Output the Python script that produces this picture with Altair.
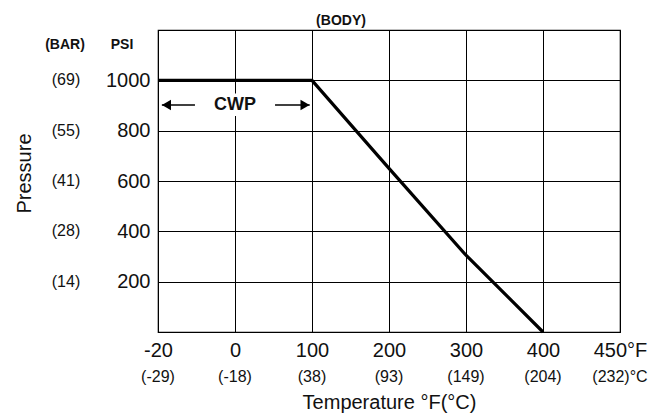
import altair as alt
import pandas as pd

# ---- data ----
temp_f_labels = ["-20", "0", "100", "200", "300", "400", "450°F"]
temp_c_labels = ["(-29)", "(-18)", "(38)", "(93)", "(149)", "(204)", "(232)°C"]
psi_ticks = [200, 400, 600, 800, 1000]
bar_labels = ["(14)", "(28)", "(41)", "(55)", "(69)"]
# curve: positions are indexes into temp_f_labels (equally spaced axis)
curve_temp_idx = [0, 2, 3, 4, 5]
curve_psi = [1000, 1000, 650, 305, 0]
cwp_psi = 902

W, H = 462, 302
FONT = "Liberation Sans"
INK = "#111111"

xscale = alt.Scale(domain=[0, 6], nice=False, zero=False)
yscale = alt.Scale(domain=[0, 1200], nice=False)

label_expr = "[" + ",".join(f"'{l}'" for l in temp_f_labels) + "][datum.value]"

curve = pd.DataFrame({"idx": curve_temp_idx, "psi": curve_psi})

line = alt.Chart(curve).mark_line(color="black", strokeWidth=3.2).encode(
    x=alt.X("idx:Q", scale=xscale, axis=alt.Axis(
        values=list(range(7)), labelExpr=label_expr, grid=True,
        gridColor="black", gridOpacity=1, gridWidth=1, ticks=False, domain=False,
        labelFontSize=20, labelFont=FONT, labelColor=INK, labelPadding=8,
        labelFlush=False, labelOverlap=False,
        title="Temperature °F(°C)", titleFontSize=20, titleFont=FONT,
        titleFontWeight="normal", titleColor=INK, titleX=W / 2, titleY=70,
        titleBaseline="middle", titleAlign="center")),
    y=alt.Y("psi:Q", scale=yscale, axis=alt.Axis(
        values=psi_ticks, format="d", grid=True, gridColor="black", gridOpacity=1,
        gridWidth=1, ticks=False, domain=False, labelFontSize=20, labelFont=FONT,
        labelColor=INK, labelPadding=8, labelFlush=False, labelOverlap=False,
        title="Pressure", titleFontSize=20, titleFont=FONT, titleFontWeight="normal",
        titleColor=INK, titleX=-134, titleY=143, titleBaseline="middle",
        titleAlign="center", titleAngle=270)),
)

# Celsius labels under the axis
cdf = pd.DataFrame({"idx": list(range(7)), "t": temp_c_labels})
c_text = alt.Chart(cdf).mark_text(fontSize=16, font=FONT, color=INK, baseline="middle").encode(
    x=alt.X("idx:Q", scale=xscale), y=alt.value(H + 45), text="t:N")

# BAR labels
bdf = pd.DataFrame({"psi": psi_ticks, "t": bar_labels})
b_text = alt.Chart(bdf).mark_text(fontSize=16, font=FONT, color=INK, baseline="middle").encode(
    x=alt.value(-92), y=alt.Y("psi:Q", scale=yscale), text="t:N")

# headers
hdf = pd.DataFrame({"t": ["(BAR)", "PSI", "(BODY)"], "px": [-93, -36, 183], "py": [15, 15, -9]})
h_text = alt.Chart(hdf).mark_text(fontSize=14, font=FONT, fontWeight="bold", color=INK,
                                  baseline="middle").encode(
    x=alt.X("px:Q", scale=None), y=alt.Y("py:Q", scale=None), text="t:N")

# CWP annotation
box = alt.Chart(pd.DataFrame({"a": [0.66], "b": [1.34], "lo": [858], "hi": [948]})).mark_rect(
    color="white").encode(x=alt.X("a:Q", scale=xscale), x2="b:Q",
                          y=alt.Y("lo:Q", scale=yscale), y2="hi:Q")
arrows = pd.DataFrame({"a": [0.05, 1.52], "b": [0.48, 1.97], "psi": [cwp_psi, cwp_psi]})
arrow_lines = alt.Chart(arrows).mark_rule(color="black", strokeWidth=1.5).encode(
    x=alt.X("a:Q", scale=xscale), x2="b:Q", y=alt.Y("psi:Q", scale=yscale))
heads = pd.DataFrame({"idx": [0.11, 1.91], "psi": [cwp_psi, cwp_psi],
                      "shape": ["triangle-left", "triangle-right"]})
arrow_heads = alt.Chart(heads).mark_point(filled=True, color="black", opacity=1, size=110).encode(
    x=alt.X("idx:Q", scale=xscale), y=alt.Y("psi:Q", scale=yscale),
    shape=alt.Shape("shape:N", scale=None))
cwp = alt.Chart(pd.DataFrame({"idx": [1.0], "psi": [cwp_psi], "t": ["CWP"]})).mark_text(
    fontSize=18, font=FONT, fontWeight="bold", color=INK, baseline="middle").encode(
    x=alt.X("idx:Q", scale=xscale), y=alt.Y("psi:Q", scale=yscale), text="t:N")

chart = alt.layer(line, box, arrow_lines, arrow_heads, cwp, c_text, b_text, h_text).properties(
    width=W, height=H,
    autosize=alt.AutoSizeParams(type="none"),
    padding={"left": 150, "top": 22, "right": 40, "bottom": 84},
).configure_view(stroke="black", strokeWidth=1.2)

chart.save("out.html", embed_options={"renderer": "svg", "actions": False})
